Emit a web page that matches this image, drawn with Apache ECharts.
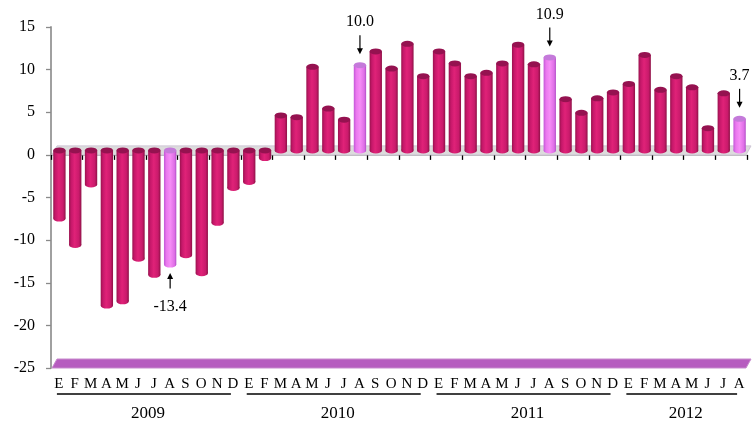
<!DOCTYPE html>
<html>
<head>
<meta charset="utf-8">
<script src="https://cdn.jsdelivr.net/npm/echarts@6/dist/echarts.min.js"></script>
<style>
  html, body { margin: 0; padding: 0; background: #fff; }
  #chart { width: 754px; height: 424px; }
</style>
</head>
<body>
<div id="chart"></div>
<script>
// Monthly year-on-year change, Jan 2009 – Aug 2012
const monthLabels = [
  'E','F','M','A','M','J','J','A','S','O','N','D',
  'E','F','M','A','M','J','J','A','S','O','N','D',
  'E','F','M','A','M','J','J','A','S','O','N','D',
  'E','F','M','A','M','J','J','A'
];
const values = [
  -8.0, -11.1, -4.0, -18.2, -17.7, -12.7, -14.6, -13.4, -12.3, -14.4, -8.5, -4.4,
  -3.7, -0.9, 4.1, 3.9, 9.8, 4.9, 3.6, 10.0, 11.6, 9.6, 12.5, 8.7,
  11.6, 10.2, 8.7, 9.1, 10.2, 12.4, 10.1, 10.9, 6.0, 4.4, 6.1, 6.8,
  7.8, 11.2, 7.1, 8.7, 7.4, 2.6, 6.7, 3.7
];
const years = ['2009', '2010', '2011', '2012'];
const monthsPerYear = [12, 12, 12, 8];
// months flagged with a value callout (each August)
const flagged = [7, 19, 31, 43];
const yTicks = { min: -25, max: 15, step: 5 };

const serif = "'Liberation Serif', 'Times New Roman', serif";

const bodyFill = {
  type: 'linear', x: 0, y: 0, x2: 1, y2: 0,
  colorStops: [
    { offset: 0, color: '#9a124e' },
    { offset: 0.18, color: '#c6186a' },
    { offset: 0.45, color: '#e02278' },
    { offset: 0.8, color: '#ca1a6c' },
    { offset: 1, color: '#8e1246' }
  ]
};
const flagFill = {
  type: 'linear', x: 0, y: 0, x2: 1, y2: 0,
  colorStops: [
    { offset: 0, color: '#c256d6' },
    { offset: 0.2, color: '#ea78ee' },
    { offset: 0.5, color: '#f68cf6' },
    { offset: 0.85, color: '#de6ee6' },
    { offset: 1, color: '#b04ec6' }
  ]
};

function ellipse(cx, cy, rx, ry, fill) {
  return {
    type: 'circle', x: cx, y: cy, scaleY: ry / rx,
    shape: { cx: 0, cy: 0, r: rx }, style: { fill: fill }
  };
}

// 3D cylinder for one month
function renderBar(params, api) {
  const idx = api.value(0);
  const v = api.value(1);
  const p0 = api.coord([idx, 0]);
  const p1 = api.coord([idx, v]);
  const w = api.size([1, 0])[0] * 0.78;
  const rx = w / 2, ry = 3;
  const dx = 0.5, dy = -4.5;
  const cx = p0[0] + dx;
  const yTop = Math.min(p0[1], p1[1]) + dy;
  const yBot = Math.max(p0[1], p1[1]) + dy;
  const isFlag = flagged.indexOf(idx) >= 0;
  const fill = isFlag ? flagFill : bodyFill;
  const capFill = isFlag ? '#c47ada' : '#951250';
  const children = [
    ellipse(cx, yBot, rx, ry, fill),
    { type: 'rect', shape: { x: cx - rx, y: yTop, width: w, height: yBot - yTop }, style: { fill: fill } },
    ellipse(cx, yTop, rx, ry, capFill)
  ];
  if (isFlag) {
    const txt = v.toFixed(1);
    const lineStyle = { stroke: '#000', lineWidth: 1.2 };
    if (v >= 0) {
      const capTop = yTop - ry;
      const tip = capTop - 8, tail = capTop - 27;
      children.push(
        { type: 'line', shape: { x1: cx, y1: tail, x2: cx, y2: tip - 4 }, style: lineStyle },
        { type: 'polygon', shape: { points: [[cx - 3, tip - 6], [cx + 3, tip - 6], [cx, tip]] }, style: { fill: '#000' } },
        { type: 'text', x: cx, y: capTop - 40, style: { text: txt, font: '16px ' + serif, fill: '#000', align: 'center', verticalAlign: 'middle' } }
      );
    } else {
      const bottom = yBot + ry;
      const tip = bottom + 5.5, tail = bottom + 21;
      children.push(
        { type: 'line', shape: { x1: cx, y1: tip + 4, x2: cx, y2: tail }, style: lineStyle },
        { type: 'polygon', shape: { points: [[cx - 3, tip + 6], [cx + 3, tip + 6], [cx, tip]] }, style: { fill: '#000' } },
        { type: 'text', x: cx, y: bottom + 39, style: { text: txt, font: '16px ' + serif, fill: '#000', align: 'center', verticalAlign: 'middle' } }
      );
    }
  }
  return { type: 'group', children: children };
}

// Zero plane and floor of the 3D box
function renderPlanes(params, api) {
  const cs = params.coordSys;
  const y0 = api.coord([0, 0])[1];
  const yf = api.coord([0, yTicks.min])[1];
  const xl = cs.x + 1, xr = cs.x + cs.width - 1;
  const ddx = 5, ddy = 9;
  return {
    type: 'group',
    children: [
      { type: 'polygon', shape: { points: [[xl, y0], [xr, y0], [xr + ddx, y0 - ddy], [xl + ddx, y0 - ddy]] },
        style: { fill: '#dcdcdc', stroke: '#cfc6d6', lineWidth: 1 } },
      { type: 'polygon', shape: { points: [[xl, yf], [xr, yf], [xr + ddx, yf - ddy], [xl + ddx, yf - ddy]] },
        style: { fill: '#b65cbf', stroke: '#c78bcd', lineWidth: 1 } }
    ]
  };
}

const chart = echarts.init(document.getElementById('chart'), null, { renderer: 'canvas' });
const cats = monthLabels.map((m, i) => i);

chart.setOption({
  animation: false,
  backgroundColor: '#ffffff',
  grid: { left: 51, right: 7, top: 27, bottom: 56 },
  xAxis: [
    {
      type: 'category', data: cats, position: 'top',
      axisLine: { onZero: true, lineStyle: { color: '#b8b8b8', width: 1 } },
      axisTick: { show: true, inside: true, length: 5, lineStyle: { color: '#000', width: 1.3 } },
      axisLabel: { show: false }, splitLine: { show: false }
    },
    {
      type: 'category', data: monthLabels, position: 'bottom',
      axisLine: { show: false }, axisTick: { show: false },
      axisLabel: { interval: 0, margin: 9, fontFamily: serif, fontSize: 15, color: '#000' }
    }
  ],
  yAxis: {
    type: 'value', min: yTicks.min, max: yTicks.max, interval: yTicks.step,
    axisLine: { show: true, lineStyle: { color: '#a0a0a0', width: 2 } },
    axisTick: { show: true, length: 5, lineStyle: { color: '#8a8a8a', width: 1.3 } },
    axisLabel: { margin: 16, fontFamily: serif, fontSize: 16, color: '#000' },
    splitLine: { show: false }
  },
  series: [
    { type: 'custom', name: 'planes', renderItem: renderPlanes, data: [[0, 0]], z: 1, silent: true },
    { type: 'custom', name: 'values', renderItem: renderBar, z: 3, clip: false,
      encode: { x: 0, y: 1 },
      data: values.map((v, i) => [i, v]) }
  ]
});

// Year spans under the month letters
const graphics = [];
let start = 0;
const yLine = 394, yYear = 414;
years.forEach((yr, k) => {
  const first = start, last = start + monthsPerYear[k] - 1;
  const xa = chart.convertToPixel({ xAxisIndex: 0 }, first);
  const xb = chart.convertToPixel({ xAxisIndex: 0 }, last);
  graphics.push({
    type: 'line', shape: { x1: xa - 2, y1: yLine, x2: xb - 2, y2: yLine },
    style: { stroke: '#000', lineWidth: 1.5 }
  });
  graphics.push({
    type: 'text', x: (xa + xb) / 2 + 2, y: yYear,
    style: { text: yr, font: '17px ' + serif, fill: '#000', align: 'center', verticalAlign: 'middle' }
  });
  start = last + 1;
});
chart.setOption({ graphic: graphics });
</script>
</body>
</html>
